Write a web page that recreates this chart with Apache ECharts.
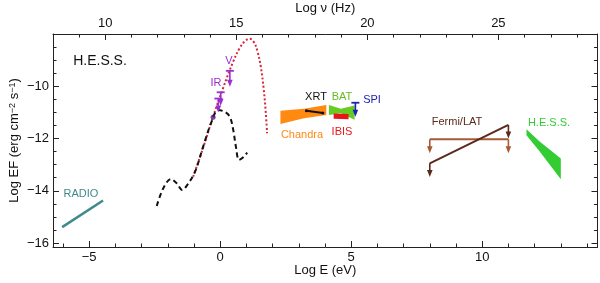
<!DOCTYPE html>
<html><head><meta charset="utf-8">
<script src="https://cdn.jsdelivr.net/npm/echarts@6/dist/echarts.min.js"></script>
<style>html,body{margin:0;padding:0;background:#fff}#c{width:600px;height:283px}</style>
</head><body><div id="c"></div>
<script>
// ---- data (log E [eV], log EF) ----
const NU_OFFSET = 14.383; // log nu(Hz) = log E(eV) + 14.383
const xMin = -6.38, xMax = 14.40, yMin = -16.15, yMax = -8.0;
const xMajor = [-5, 0, 5, 10];
const xMinor = [-6,-4,-3,-2,-1,1,2,3,4,6,7,8,9,11,12,13,14];
const nuMajor = [10, 15, 20, 25];
const nuMinor = [9,11,12,13,14,16,17,18,19,21,22,23,24,26,27,28];
const yMajor = [-16, -14, -12, -10];
const yMinor = [-15.5,-15,-14.5,-13.5,-13,-12.5,-11.5,-11,-10.5,-9.5,-9,-8.5,-8];

const radio = [[-6.03,-15.39],[-4.47,-14.37]];
const hostCurve = [[-2.42,-14.58],[-2.17,-13.9],[-1.88,-13.55],[-1.66,-13.71],[-1.45,-13.97],[-1.28,-13.81],
  [-0.96,-13.27],[-0.65,-12.31],[-0.33,-11.36],[-0.08,-10.91],[0.18,-10.98],[0.37,-11.17],[0.5,-11.68],
  [0.6,-12.31],[0.72,-12.82],[0.88,-12.72],[1.03,-12.54]];
const diskCurve = [[-1.03,-13.46],[-0.65,-12.35],[-0.3,-11.25],[0.1,-10.1],[0.5,-9.05],[0.75,-8.53],
  [0.95,-8.27],[1.12,-8.18],[1.28,-8.3],[1.42,-8.65],[1.55,-9.25],[1.66,-10.1],[1.74,-11.0],[1.79,-11.8]];
const chandra = [[2.30,-10.94],[3.2,-10.86],[4.05,-10.72],[4.05,-11.1],[3.2,-11.22],[2.30,-11.44]];
const xrt = [[3.29,-10.94],[3.92,-11.02]];
const bat = [[4.15,-10.72],[4.6,-10.86],[5.13,-10.74],[5.13,-11.28],[4.6,-11.03],[4.15,-11.1]];
const ibis = [[4.33,-11.04],[4.9,-11.06],[4.9,-11.26],[4.33,-11.24]];
const hess = [[11.69,-11.64],[12.18,-12.1],[13.0,-12.76],[13.0,-13.56],[12.18,-12.48],[11.69,-11.87]];
const fermiFlat = [[8.0,-12.03],[11.0,-12.03]];
const fermiSlope = [[8.0,-12.95],[11.0,-11.48]];
const optLimits = [[0.37,-9.41,-10.02],[0.02,-10.23,-10.75],[-0.07,-10.47,-11.0]]; // x, top, arrow tip
const spiLimit = [[5.16,-10.63,-11.17]];
const fermiFlatLimits = [[8.0,-12.03,-12.56],[11.0,-12.03,-12.56]];
const fermiSlopeLimits = [[8.0,-12.95,-13.47],[11.0,-11.48,-12.0]];
const optPoint = [[-0.27,-11.19]];

const minus = v => String(v).replace('-', '\u2212');
const FONT = '"Liberation Sans", Arial, Helvetica, sans-serif';

function polySeries(pts, color) {
  return { type:'custom', xAxisIndex:0, yAxisIndex:0, data: pts, clip:false, z:3,
    renderItem: (params, api) => {
      if (params.dataIndex !== 0) return null;
      return { type:'polygon', shape:{ points: pts.map(p => api.coord(p)) }, style:{ fill: color } };
    } };
}
function limitSeries(data, color, bar, z) {
  return { type:'custom', xAxisIndex:0, yAxisIndex:0, data, clip:false, z: z||5,
    renderItem: (params, api) => {
      const x = api.value(0);
      const p1 = api.coord([x, api.value(1)]), p2 = api.coord([x, api.value(2)]);
      const ch = [
        { type:'line', shape:{x1:p1[0],y1:p1[1],x2:p2[0],y2:p2[1]-4}, style:{stroke:color,lineWidth:1.6} },
        { type:'polygon', shape:{points:[[p2[0]-2.8,p2[1]-7],[p2[0]+2.8,p2[1]-7],[p2[0],p2[1]]]}, style:{fill:color} }
      ];
      if (bar) ch.push({ type:'line', shape:{x1:p1[0]-4,y1:p1[1],x2:p1[0]+4,y2:p1[1]}, style:{stroke:color,lineWidth:1.8} });
      return { type:'group', children: ch };
    } };
}
function axisX(pos, min, max, ticks, len, labels, extra) {
  return Object.assign({ type:'value', position:pos, min, max, splitLine:{show:false},
    axisLine:{show:!!labels, lineStyle:{color:'#222', width:1}},
    axisTick:{show:true, inside:true, length:len, customValues:ticks, lineStyle:{color:'#222', width:1}},
    axisLabel:{show:!!labels, customValues:ticks, formatter:minus, color:'#111', fontSize:13, fontFamily:FONT, margin:4}
  }, extra || {});
}
function axisY(pos, ticks, len, showLine, labels, extra) {
  return Object.assign({ type:'value', position:pos, min:yMin, max:yMax, splitLine:{show:false},
    axisLine:{show:showLine, onZero:false, lineStyle:{color:'#222', width:1}},
    axisTick:{show:true, inside:true, length:len, customValues:ticks, lineStyle:{color:'#222', width:1}},
    axisLabel:{show:labels, customValues:ticks, formatter:minus, color:'#111', fontSize:13, fontFamily:FONT, margin:4}
  }, extra || {});
}

const chart = echarts.init(document.getElementById('c'), null, {renderer:'canvas'});
function txt(t, x, y, color, size) {
  return { type:'text', x, y, z:10, style:{ text:t, fill:color, font: (size||11) + 'px ' + FONT, align:'center', verticalAlign:'middle' } };
}
chart.setOption({
  animation:false,
  grid:{ left:53, right:2.5, top:34, bottom:36, containLabel:false, outerBoundsMode:'none' },
  xAxis:[
    axisX('bottom', xMin, xMax, xMajor, 6, true, { name:'Log E (eV)', nameLocation:'middle', nameGap:17, nameMoveOverlap:false,
      nameTextStyle:{ fontSize:13, color:'#111', fontFamily:FONT }, axisLine:{show:true,onZero:false,lineStyle:{color:'#222',width:1}} }),
    axisX('bottom', xMin, xMax, xMinor, 3.5, false, {}),
    axisX('top', xMin+NU_OFFSET, xMax+NU_OFFSET, nuMajor, 6, true, { name:'Log \u03bd (Hz)', nameLocation:'middle', nameGap:19, nameMoveOverlap:false,
      nameTextStyle:{ fontSize:13, color:'#111', fontFamily:FONT }, axisLine:{show:true,onZero:false,lineStyle:{color:'#222',width:1}} }),
    axisX('top', xMin+NU_OFFSET, xMax+NU_OFFSET, nuMinor, 3.5, false, {})
  ],
  yAxis:[
    axisY('left', yMajor, 6, true, true, { name:'Log EF (erg cm{s|\u22122} s{s|\u22121})', nameLocation:'middle', nameGap:32, nameMoveOverlap:false,
      nameTextStyle:{ fontSize:13, color:'#111', fontFamily:FONT, rich:{ s:{ fontSize:9, verticalAlign:'top', color:'#111', fontFamily:FONT } } } }),
    axisY('left', yMinor, 3.5, false, false),
    axisY('right', yMajor, 6, true, false),
    axisY('right', yMinor, 3.5, false, false)
  ],
  series:[
    { type:'line', data:radio, symbol:'none', lineStyle:{color:'#3f8b8b', width:2.5} },
    { type:'line', data:diskCurve, symbol:'none', smooth:0.4, lineStyle:{color:'#d8263a', width:2, type:[2,2.2]}, z:2 },
    { type:'line', data:hostCurve, symbol:'none', smooth:0.35, lineStyle:{color:'#111', width:2, type:[5,3.5]}, z:3 },
    polySeries(chandra, '#ff8a12'),
    polySeries(bat, '#66cc22'),
    polySeries(ibis, '#e8161c'),
    polySeries(hess, '#33cc33'),
    { type:'line', data:xrt, symbol:'circle', symbolSize:3, itemStyle:{color:'#111'}, lineStyle:{color:'#111', width:2}, z:6 },
    { type:'line', data:fermiFlat, symbol:'none', lineStyle:{color:'#a65a35', width:2} },
    { type:'line', data:fermiSlope, symbol:'none', lineStyle:{color:'#5a2a1c', width:2}, z:4 },
    limitSeries(optLimits, '#9a2fd0', true, 6),
    limitSeries(spiLimit, '#1b24b0', true, 6),
    limitSeries(fermiFlatLimits, '#a65a35', false, 4),
    limitSeries(fermiSlopeLimits, '#5a2a1c', false, 4),
    { type:'scatter', data:optPoint, symbol:'circle', symbolSize:5, itemStyle:{color:'#4a1a8a'}, z:7 }
  ],
  graphic:[
    txt('H.E.S.S.', 100, 61, '#111', 14),
    txt('RADIO', 81, 194, '#3f8b8b'),
    txt('V', 229, 61, '#9a2fd0'),
    txt('IR', 216, 83, '#9a2fd0'),
    txt('XRT', 316, 97, '#111'),
    txt('BAT', 342, 97, '#66bb22'),
    txt('SPI', 372, 100, '#1b24b0'),
    txt('Chandra', 302, 135, '#ff8a12'),
    txt('IBIS', 342, 132, '#e8161c'),
    txt('Fermi/LAT', 457, 122, '#5a2a1c'),
    txt('H.E.S.S.', 549, 123, '#33cc33')
  ]
});
</script></body></html>
